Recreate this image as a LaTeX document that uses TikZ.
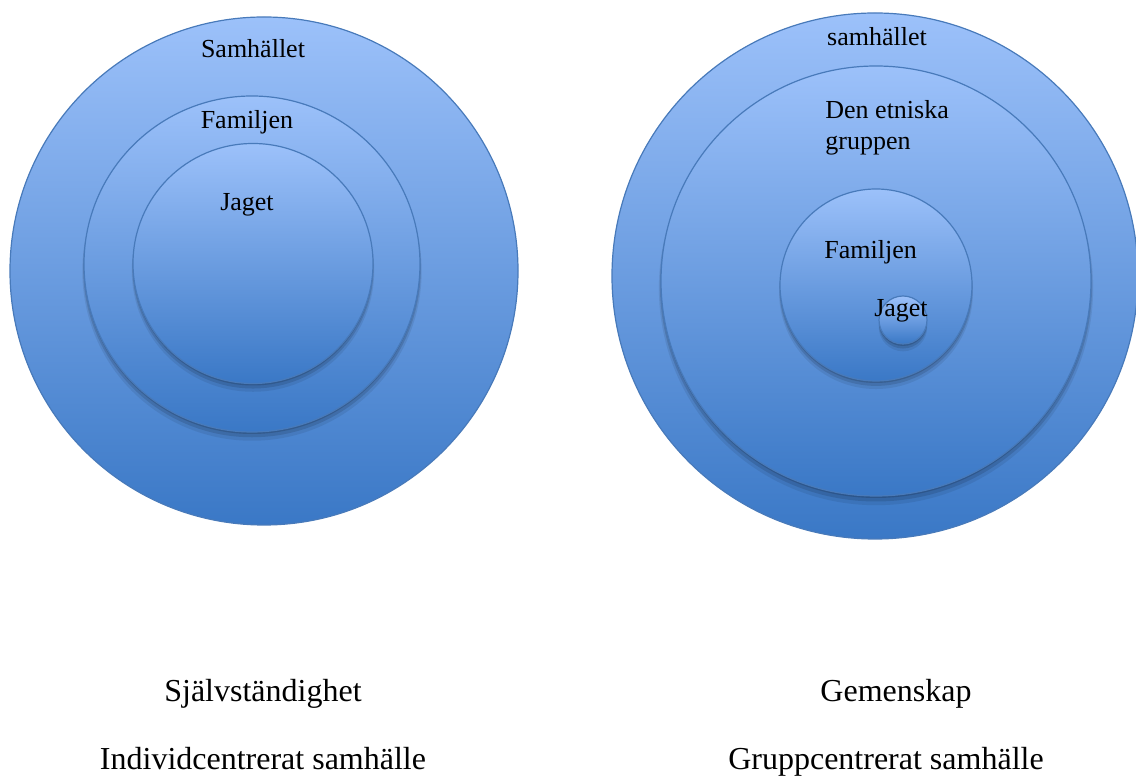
\documentclass[tikz,border=0pt]{standalone}
\usepackage{fontspec}
\setmainfont{Liberation Serif}
\usetikzlibrary{shadows}
\definecolor{ljus}{RGB}{156,193,250}
\definecolor{mork}{RGB}{58,120,198}
\definecolor{kant}{RGB}{72,122,186}
\tikzset{
	ring/.style={circle, draw=kant, line width=0.6pt, inner sep=0pt,
		top color=ljus, bottom color=mork, shading angle=0},
	skugga/.style={
		general shadow={shadow xshift=0pt, shadow yshift=-3.5pt, shadow scale=1.01, opacity=0.08, fill=black},
		general shadow={shadow xshift=0pt, shadow yshift=-2.2pt, shadow scale=1.005, opacity=0.12, fill=black},
		general shadow={shadow xshift=0pt, shadow yshift=-1pt, opacity=0.15, fill=black}},
	etikett/.style={font=\fontsize{13}{15.5}\selectfont, inner sep=0pt, anchor=base},
	rubrik/.style={font=\fontsize{16}{19}\selectfont, inner sep=0pt, anchor=base}
}
\begin{document}
\begin{tikzpicture}[x=0.5pt, y=0.5pt, line join=round, line cap=round]
		\useasboundingbox (0,0) rectangle (1136,776);
		% Individcentrerat
		\node[ring, minimum size=254pt] (samL) at (264,505) {};
		\node[ring, skugga, minimum size=168pt] (famL) at (252,512) {};
		\node[ring, skugga, minimum size=120pt] (jagL) at (253,512.5) {};
		\node[etikett] (tSamL) at (253,718) {Samhället};
		\node[etikett] (tFamL) at (247,647) {Familjen};
		\node[etikett] (tJagL) at (247,565) {Jaget};
		
		% Gruppcentrerat
		\node[ring, minimum size=263pt] (samR) at (875,500) {};
		\node[ring, skugga, minimum size=215pt] (etnR) at (876,495) {};
		\node[ring, skugga, minimum size=96pt] (famR) at (876,491) {};
		\node[ring, skugga, minimum size=24pt] (jagR) at (903,456) {};
		\node[etikett] (tSamR) at (877,730) {samhället};
		\node[etikett, align=left, anchor=north west] (tEtnR) at (825,676) {Den etniska\\gruppen};
		\node[etikett, anchor=base west] (tFamR) at (824,517) {Familjen};
		\node[etikett] (tJagR) at (901,459) {Jaget};
		
		\node[rubrik] (sjalv) at (263,74) {Självständighet};
		\node[rubrik] (indiv) at (263,6) {Individcentrerat samhälle};
		\node[rubrik] (gemen) at (896,74) {Gemenskap};
		\node[rubrik] (grupp) at (886,6) {Gruppcentrerat samhälle};
\end{tikzpicture}
\end{document}
